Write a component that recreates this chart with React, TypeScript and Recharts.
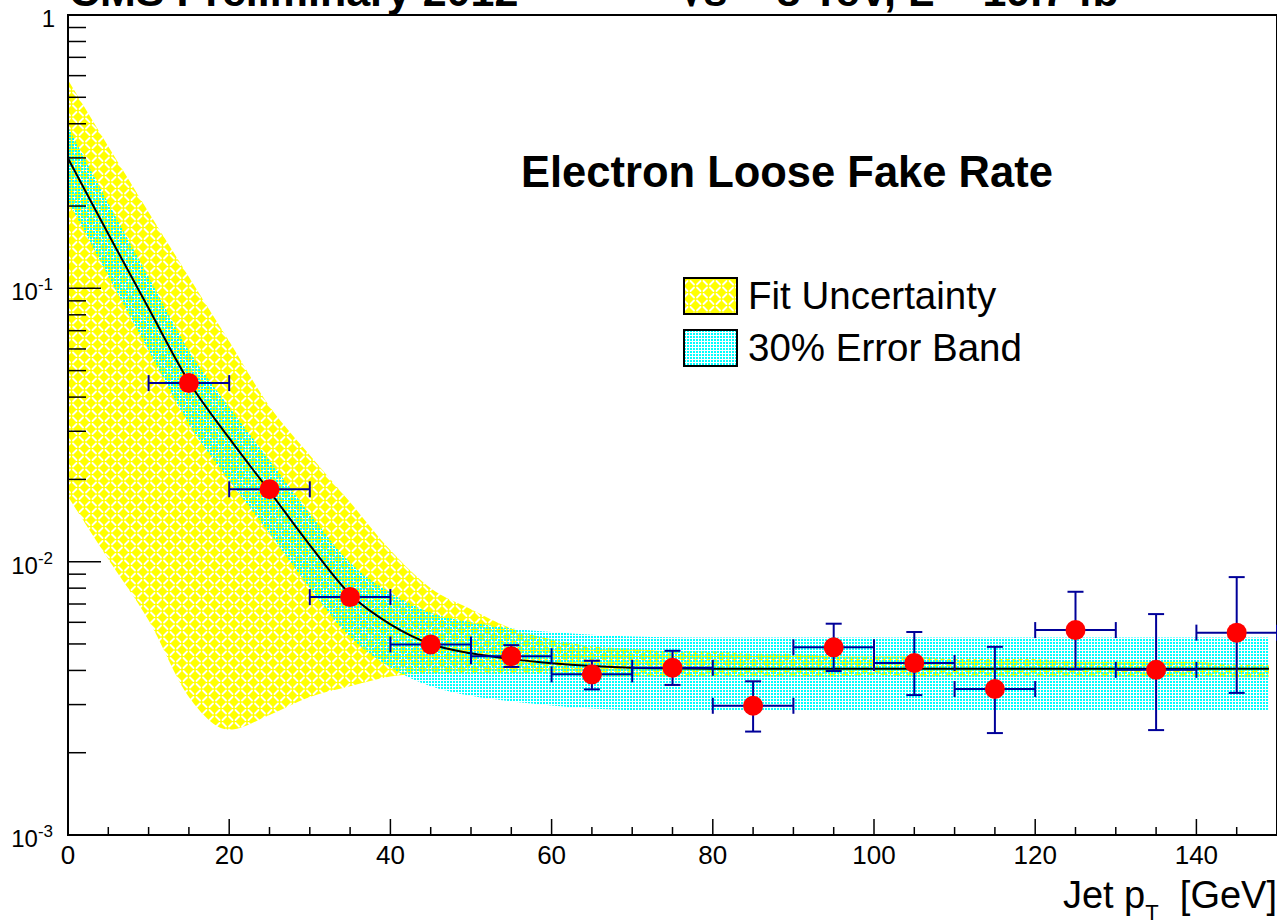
import React from 'react';
import {
  ComposedChart,
  XAxis,
  YAxis,
  Area,
  Line,
  Scatter,
  ErrorBar,
  ReferenceArea,
} from 'recharts';

const FONT = '"Liberation Sans", Arial, Helvetica, sans-serif';

// ---- band / fit curve ----
const BAND_X = [0, 5, 10, 15, 20, 25, 30, 35, 40, 45, 50, 55, 60, 65, 70, 75, 80, 85, 90, 95, 100, 105, 110, 115, 120, 125, 130, 135, 140, 145, 149];
const FIT = [0.299, 0.158, 0.0845, 0.0455, 0.0283, 0.0181, 0.0115, 0.0076, 0.0059, 0.0050, 0.00462, 0.0044, 0.00425, 0.00415, 0.00409, 0.00407, 0.00406, 0.00406, 0.00406, 0.00406, 0.00406, 0.00406, 0.00406, 0.00406, 0.00406, 0.00406, 0.00406, 0.00406, 0.00406, 0.00406, 0.00406];
const CYAN_HI = [0.389, 0.205, 0.110, 0.0592, 0.0368, 0.0235, 0.0150, 0.0099, 0.0077, 0.0065, 0.0060, 0.0057, 0.00553, 0.0054, 0.00532, 0.00529, 0.00528, 0.00528, 0.00528, 0.00528, 0.00528, 0.00528, 0.00528, 0.00528, 0.00528, 0.00528, 0.00528, 0.00528, 0.00528, 0.00528, 0.00528];
const CYAN_LO = [0.209, 0.111, 0.0592, 0.0319, 0.0198, 0.0127, 0.0080, 0.0053, 0.0041, 0.0035, 0.00323, 0.00308, 0.00298, 0.0029, 0.00286, 0.00285, 0.00284, 0.00284, 0.00284, 0.00284, 0.00284, 0.00284, 0.00284, 0.00284, 0.00284, 0.00284, 0.00284, 0.00284, 0.00284, 0.00284, 0.00284];
const YELLOW_HI = [0.578, 0.33, 0.19, 0.11, 0.064, 0.037, 0.0245, 0.0165, 0.011, 0.0080, 0.0067, 0.0057, 0.0052, 0.0049, 0.0048, 0.0047, 0.0047, 0.0046, 0.0046, 0.0045, 0.0045, 0.0045, 0.0044, 0.0044, 0.0044, 0.0043, 0.0043, 0.0043, 0.0043, 0.0042, 0.0042];
const YELLOW_LO = [0.0173, 0.0102, 0.0061, 0.0032, 0.00243, 0.00275, 0.0032, 0.0035, 0.0038, 0.0039, 0.0039, 0.0039, 0.0039, 0.0038, 0.0038, 0.0038, 0.0038, 0.0038, 0.0038, 0.0038, 0.00385, 0.0038, 0.0038, 0.0038, 0.0038, 0.0038, 0.0038, 0.0038, 0.0038, 0.00378, 0.00378];

// ---- measured points ----
const PT_X = [15, 25, 35, 45, 55, 65, 75, 85, 95, 105, 115, 125, 135, 145];
const PT_Y = [0.0450, 0.0184, 0.00742, 0.00498, 0.00451, 0.00387, 0.00409, 0.00297, 0.00486, 0.00426, 0.00342, 0.00562, 0.00402, 0.00550];
const PT_YLO = [0.0440, 0.0179, 0.00722, 0.00486, 0.00412, 0.00341, 0.00354, 0.00239, 0.00398, 0.00325, 0.00236, 0.00404, 0.00242, 0.00331];
const PT_YHI = [0.0460, 0.0189, 0.00762, 0.00510, 0.00495, 0.00434, 0.00472, 0.00365, 0.00593, 0.00553, 0.00488, 0.00776, 0.00643, 0.00878];
const PT_XERR = [5, 5, 5, 5, 5, 5, 5, 5, 5, 5, 5, 5, 5, 5];

// ---- ticks ----
const X_TICKS = [0, 5, 10, 15, 20, 25, 30, 35, 40, 45, 50, 55, 60, 65, 70, 75, 80, 85, 90, 95, 100, 105, 110, 115, 120, 125, 130, 135, 140, 145, 150];
const X_LABELS = [0, 20, 40, 60, 80, 100, 120, 140];
const Y_TICKS = [
  0.001, 0.002, 0.003, 0.004, 0.005, 0.006, 0.007, 0.008, 0.009,
  0.01, 0.02, 0.03, 0.04, 0.05, 0.06, 0.07, 0.08, 0.09,
  0.1, 0.2, 0.3, 0.4, 0.5, 0.6, 0.7, 0.8, 0.9, 1,
];
const Y_LABELS = [0.001, 0.01, 0.1, 1];
const Y_EXP = ['-3', '-2', '-1', ''];

const bandData = BAND_X.map((x, i) => ({
  x,
  fit: FIT[i],
  yellow: [YELLOW_LO[i], YELLOW_HI[i]],
  cyan: [CYAN_LO[i], CYAN_HI[i]],
}));

const pointData = PT_X.map((x, i) => ({
  x,
  y: PT_Y[i],
  ey: [PT_Y[i] - PT_YLO[i], PT_YHI[i] - PT_Y[i]],
  ex: PT_XERR[i],
}));

const XTick = (props: any) => {
  const { x, y, payload } = props;
  const v = payload.value;
  const major = X_LABELS.includes(v);
  return (
    <g>
      <line x1={x} x2={x} y1={y} y2={y - (major ? 16 : 8)} stroke="#000" strokeWidth={1.5} />
      {major && (
        <text x={x} y={y + 29} textAnchor="middle" fontSize={26} fontFamily={FONT} fill="#000">
          {v}
        </text>
      )}
    </g>
  );
};

const YTick = (props: any) => {
  const { x, y, payload } = props;
  const v = payload.value;
  const idx = Y_LABELS.findIndex((d) => Math.abs(d - v) / d < 1e-6);
  const major = idx >= 0;
  return (
    <g>
      <line x1={x} x2={x + (major ? 33 : 18)} y1={y} y2={y} stroke="#000" strokeWidth={1.5} />
      {major && idx === 3 && (
        <text x={x - 13} y={y + 12} textAnchor="end" fontSize={24} fontFamily={FONT} fill="#000">
          1
        </text>
      )}
      {major && idx !== 3 && (
        <text x={x - 15} y={y + 12} textAnchor="end" fontSize={24} fontFamily={FONT} fill="#000">
          <tspan>10</tspan>
          <tspan dy={-10} fontSize={17}>{Y_EXP[idx]}</tspan>
        </text>
      )}
    </g>
  );
};

const Marker = (props: any) => {
  const { cx, cy } = props;
  if (cx == null || cy == null) return null;
  return <circle cx={cx} cy={cy} r={10} fill="#ff0000" />;
};

const Patterns = () => (
  <svg width={0} height={0} style={{ position: 'absolute' }}>
    <defs>
      <pattern id="weave" width="13" height="13" patternUnits="userSpaceOnUse">
        <rect width="13" height="13" fill="#ffff00" />
        <path
          d="M1.5 5 L5 1.5 M8 11.5 L11.5 8 M8 1.5 L11.5 5 M1.5 8 L5 11.5"
          stroke="#ffffff"
          strokeWidth="1.8"
          strokeLinecap="round"
        />
      </pattern>
      <pattern id="dots" width="3" height="3" patternUnits="userSpaceOnUse">
        <rect width="2" height="2" fill="#00ffff" />
      </pattern>
    </defs>
  </svg>
);

export default function App() {
  return (
    <div style={{ position: 'absolute', left: 0, top: 0, width: 1277, height: 923, background: '#fff', overflow: 'hidden' }}>
      <Patterns />
      <ComposedChart
        width={1277}
        height={923}
        data={bandData}
        margin={{ top: 15, right: 0, bottom: 0, left: 0 }}
      >
        <XAxis
          type="number"
          dataKey="x"
          domain={[0, 150]}
          ticks={X_TICKS}
          interval={0}
          allowDataOverflow
          height={88}
          tickLine={false}
          tickSize={0}
          tickMargin={0}
          axisLine={{ stroke: '#000', strokeWidth: 2 }}
          tick={<XTick />}
        />
        <YAxis
          type="number"
          scale="log"
          domain={[0.001, 1]}
          ticks={Y_TICKS}
          interval={0}
          allowDataOverflow
          width={68}
          tickLine={false}
          tickSize={0}
          tickMargin={0}
          axisLine={{ stroke: '#000', strokeWidth: 2 }}
          tick={<YTick />}
        />
        <Area
          dataKey="yellow"
          type="monotone"
          fill="url(#weave)"
          fillOpacity={1}
          stroke="none"
          isAnimationActive={false}
        />
        <Area
          dataKey="cyan"
          type="monotone"
          fill="url(#dots)"
          fillOpacity={1}
          stroke="none"
          isAnimationActive={false}
        />
        <Line
          dataKey="fit"
          type="monotone"
          stroke="#000"
          strokeWidth={2}
          dot={false}
          isAnimationActive={false}
        />
        <Scatter data={pointData} dataKey="y" shape={<Marker />} isAnimationActive={false}>
          <ErrorBar dataKey="ey" direction="y" stroke="#000099" strokeWidth={2} width={8} isAnimationActive={false} />
          <ErrorBar dataKey="ex" direction="x" stroke="#000099" strokeWidth={2} width={8} isAnimationActive={false} />
        </Scatter>
        <ReferenceArea x1={0} x2={150} y1={0.001} y2={1} fill="none" stroke="#000" strokeWidth={2} />
      </ComposedChart>

      <svg
        width={1277}
        height={923}
        style={{ position: 'absolute', left: 0, top: 0, pointerEvents: 'none' }}
        fontFamily={FONT}
      >
        <text x={69} y={6} fontSize={43} fontWeight="bold" fill="#000">
          CMS Preliminary 2012
        </text>
        <text x={680} y={6} fontSize={43} fontWeight="bold" fill="#000">
          √s = 8 TeV, L = 19.7 fb<tspan dy={-18} fontSize={30}>-1</tspan>
        </text>
        <text x={521} y={187} fontSize={43.5} fontWeight="bold" fill="#000">
          Electron Loose Fake Rate
        </text>

        <rect x={684} y={278} width={53} height={36} fill="url(#weave)" stroke="#000" strokeWidth={2} />
        <text x={748} y={309} fontSize={38.5} fill="#000">Fit Uncertainty</text>
        <rect x={684} y={330} width={53} height={36} fill="url(#dots)" stroke="#000" strokeWidth={2} />
        <text x={748} y={361} fontSize={38.5} fill="#000">30% Error Band</text>

        <text x={1277} y={908} textAnchor="end" fontSize={38} fill="#000" style={{ whiteSpace: 'pre' }}>
          Jet p<tspan dy={12} fontSize={22}>T</tspan><tspan dy={-12}>  [GeV]</tspan>
        </text>
      </svg>
    </div>
  );
}
